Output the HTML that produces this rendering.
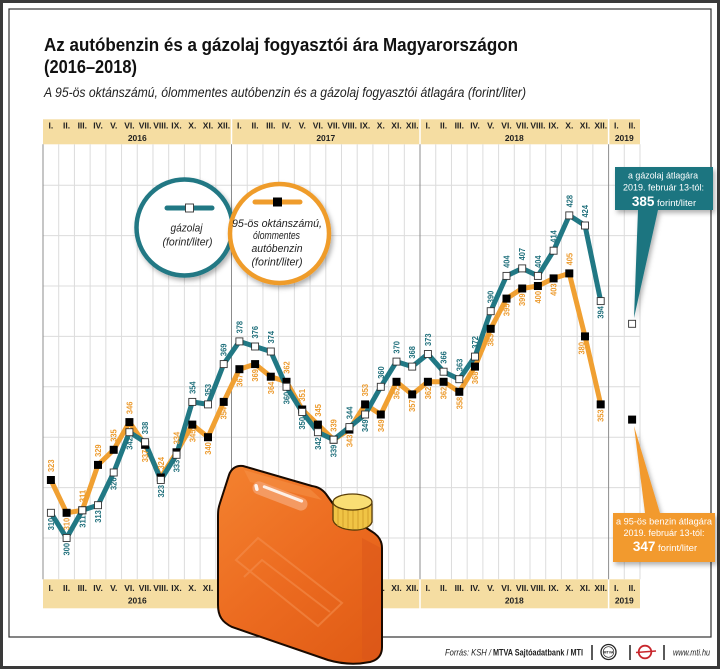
<!DOCTYPE html>
<html><head><meta charset="utf-8"><style>html,body{margin:0;padding:0;background:#fff}svg{display:block}</style></head>
<body>
<svg width="720" height="669" viewBox="0 0 720 669" xmlns="http://www.w3.org/2000/svg" font-family="'Liberation Sans', Arial, sans-serif">
<defs>
<filter id="sh" x="-30%" y="-30%" width="170%" height="170%"><feDropShadow dx="2" dy="3" stdDeviation="2.5" flood-color="#000" flood-opacity="0.3"/></filter>
<linearGradient id="cg" gradientUnits="userSpaceOnUse" x1="220" y1="470" x2="385" y2="660"><stop offset="0" stop-color="#f3812f"/><stop offset="0.5" stop-color="#ec6b20"/><stop offset="1" stop-color="#df5a14"/></linearGradient>
</defs>
<rect x="0" y="0" width="720" height="669" fill="#fff"/>
<rect x="1.5" y="1.5" width="717" height="666" fill="none" stroke="#3a3a3a" stroke-width="3"/>
<rect x="9" y="9" width="702" height="628" fill="none" stroke="#333" stroke-width="1.2"/>

<!-- title -->
<text x="44" y="51" font-size="18.5" font-weight="bold" fill="#111" textLength="474" lengthAdjust="spacingAndGlyphs">Az autóbenzin és a gázolaj fogyasztói ára Magyarországon</text>
<text x="44" y="73" font-size="18.5" font-weight="bold" fill="#111" textLength="93" lengthAdjust="spacingAndGlyphs">(2016–2018)</text>
<text x="44" y="97" font-size="13.5" font-style="italic" fill="#222" textLength="482" lengthAdjust="spacingAndGlyphs">A 95-ös oktánszámú, ólommentes autóbenzin és a gázolaj fogyasztói átlagára (forint/liter)</text>

<!-- header bands -->
<rect x="43" y="119.3" width="597" height="25" fill="#f5dda2"/>
<rect x="43" y="579.3" width="597" height="29" fill="#f5dda2"/>
<g stroke="#fff" stroke-width="1.5">
<line x1="231.5" y1="119" x2="231.5" y2="145"/><line x1="420" y1="119" x2="420" y2="145"/><line x1="608.6" y1="119" x2="608.6" y2="145"/>
<line x1="231.5" y1="579" x2="231.5" y2="609"/><line x1="420" y1="579" x2="420" y2="609"/><line x1="608.6" y1="579" x2="608.6" y2="609"/>
</g>

<!-- grid -->
<g stroke="#dcdcdc" stroke-width="1" fill="none">
<path d="M58.71 144.3V579.3M74.42 144.3V579.3M90.13 144.3V579.3M105.84 144.3V579.3M121.55 144.3V579.3M137.26 144.3V579.3M152.97 144.3V579.3M168.68 144.3V579.3M184.39 144.3V579.3M200.1 144.3V579.3M215.81 144.3V579.3M247.23 144.3V579.3M262.94 144.3V579.3M278.65 144.3V579.3M294.36 144.3V579.3M310.07 144.3V579.3M325.78 144.3V579.3M341.49 144.3V579.3M357.2 144.3V579.3M372.91 144.3V579.3M388.62 144.3V579.3M404.33 144.3V579.3M435.75 144.3V579.3M451.46 144.3V579.3M467.17 144.3V579.3M482.88 144.3V579.3M498.59 144.3V579.3M514.3 144.3V579.3M530.01 144.3V579.3M545.72 144.3V579.3M561.43 144.3V579.3M577.14 144.3V579.3M592.85 144.3V579.3M624.27 144.3V579.3M639.98 144.3V579.3"/>
<path d="M43 185.2H640M43 235.6H640M43 286H640M43 336.4H640M43 386.8H640M43 437.2H640M43 487.6H640M43 538H640"/>
</g>
<g stroke="#8c8c8c" stroke-width="1">
<line x1="43" y1="144.3" x2="43" y2="579.3"/><line x1="231.5" y1="144.3" x2="231.5" y2="579.3"/><line x1="420" y1="144.3" x2="420" y2="579.3"/><line x1="608.6" y1="144.3" x2="608.6" y2="579.3"/>
</g>

<!-- header labels -->
<g font-size="8.5" font-weight="bold" fill="#222" text-anchor="middle">
<g transform="translate(0,128.5)">
<text x="50.9">I.</text><text x="66.6">II.</text><text x="82.3">III.</text><text x="98">IV.</text><text x="113.7">V.</text><text x="129.4">VI.</text><text x="145.1">VII.</text><text x="160.8">VIII.</text><text x="176.5">IX.</text><text x="192.3">X.</text><text x="208">XI.</text><text x="223.7">XII.</text>
<text x="239.4">I.</text><text x="255.1">II.</text><text x="270.8">III.</text><text x="286.5">IV.</text><text x="302.2">V.</text><text x="317.9">VI.</text><text x="333.6">VII.</text><text x="349.4">VIII.</text><text x="365.1">IX.</text><text x="380.8">X.</text><text x="396.5">XI.</text><text x="412.2">XII.</text>
<text x="427.9">I.</text><text x="443.6">II.</text><text x="459.3">III.</text><text x="475">IV.</text><text x="490.7">V.</text><text x="506.5">VI.</text><text x="522.2">VII.</text><text x="537.9">VIII.</text><text x="553.6">IX.</text><text x="569.3">X.</text><text x="585">XI.</text><text x="600.7">XII.</text>
<text x="616.4">I.</text><text x="632.1">II.</text>
</g>
<g transform="translate(0,141)">
<text x="137.3">2016</text><text x="325.8">2017</text><text x="514.3">2018</text><text x="624.3">2019</text>
</g>
<g transform="translate(0,591)">
<text x="50.9">I.</text><text x="66.6">II.</text><text x="82.3">III.</text><text x="98">IV.</text><text x="113.7">V.</text><text x="129.4">VI.</text><text x="145.1">VII.</text><text x="160.8">VIII.</text><text x="176.5">IX.</text><text x="192.3">X.</text><text x="208">XI.</text><text x="223.7">XII.</text>
<text x="239.4">I.</text><text x="255.1">II.</text><text x="270.8">III.</text><text x="286.5">IV.</text><text x="302.2">V.</text><text x="317.9">VI.</text><text x="333.6">VII.</text><text x="349.4">VIII.</text><text x="365.1">IX.</text><text x="380.8">X.</text><text x="396.5">XI.</text><text x="412.2">XII.</text>
<text x="427.9">I.</text><text x="443.6">II.</text><text x="459.3">III.</text><text x="475">IV.</text><text x="490.7">V.</text><text x="506.5">VI.</text><text x="522.2">VII.</text><text x="537.9">VIII.</text><text x="553.6">IX.</text><text x="569.3">X.</text><text x="585">XI.</text><text x="600.7">XII.</text>
<text x="616.4">I.</text><text x="632.1">II.</text>
</g>
<g transform="translate(0,603.5)">
<text x="137.3">2016</text><text x="325.8">2017</text><text x="514.3">2018</text><text x="624.3">2019</text>
</g>
</g>

<!-- series lines -->
<polyline fill="none" stroke="#f0a032" stroke-width="5" stroke-linejoin="round" stroke-linecap="round" points="50.9,480 66.6,512.8 82.3,510.3 98,464.9 113.7,449.8 129.4,422.1 145.1,444.8 160.8,477.5 176.5,452.3 192.3,424.6 208,437.2 223.7,401.9 239.4,369.2 255.1,364.1 270.8,376.7 286.5,381.8 302.2,409.5 317.9,424.6 333.6,439.7 349.4,429.6 365.1,404.4 380.8,414.5 396.5,381.8 412.2,394.4 427.9,381.8 443.6,381.8 459.3,391.8 475,366.6 490.7,328.8 506.5,298.6 522.2,288.5 537.9,286 553.6,278.4 569.3,273.4 585,336.4 600.7,404.4"/>
<polyline fill="none" stroke="#217884" stroke-width="5" stroke-linejoin="round" stroke-linecap="round" points="50.9,512.8 66.6,538 82.3,510.3 98,505.2 113.7,472.5 129.4,432.2 145.1,442.2 160.8,480 176.5,454.8 192.3,401.9 208,404.4 223.7,364.1 239.4,341.4 255.1,346.5 270.8,351.5 286.5,386.8 302.2,412 317.9,432.2 333.6,439.7 349.4,427.1 365.1,414.5 380.8,386.8 396.5,361.6 412.2,366.6 427.9,354 443.6,371.7 459.3,379.2 475,356.6 490.7,311.2 506.5,275.9 522.2,268.4 537.9,275.9 553.6,250.7 569.3,215.4 585,225.5 600.7,301.1"/>

<!-- orange markers -->
<g fill="#000">
<rect x="46.9" y="476" width="8" height="8"/><rect x="62.6" y="508.8" width="8" height="8"/><rect x="78.3" y="506.3" width="8" height="8"/><rect x="94" y="460.9" width="8" height="8"/><rect x="109.7" y="445.8" width="8" height="8"/><rect x="125.4" y="418.1" width="8" height="8"/><rect x="141.1" y="440.8" width="8" height="8"/><rect x="156.8" y="473.5" width="8" height="8"/><rect x="172.5" y="448.3" width="8" height="8"/><rect x="188.3" y="420.6" width="8" height="8"/><rect x="204" y="433.2" width="8" height="8"/><rect x="219.7" y="397.9" width="8" height="8"/>
<rect x="235.4" y="365.2" width="8" height="8"/><rect x="251.1" y="360.1" width="8" height="8"/><rect x="266.8" y="372.7" width="8" height="8"/><rect x="282.5" y="377.8" width="8" height="8"/><rect x="298.2" y="405.5" width="8" height="8"/><rect x="313.9" y="420.6" width="8" height="8"/><rect x="329.6" y="435.7" width="8" height="8"/><rect x="345.4" y="425.6" width="8" height="8"/><rect x="361.1" y="400.4" width="8" height="8"/><rect x="376.8" y="410.5" width="8" height="8"/><rect x="392.5" y="377.8" width="8" height="8"/><rect x="408.2" y="390.4" width="8" height="8"/>
<rect x="423.9" y="377.8" width="8" height="8"/><rect x="439.6" y="377.8" width="8" height="8"/><rect x="455.3" y="387.8" width="8" height="8"/><rect x="471" y="362.6" width="8" height="8"/><rect x="486.7" y="324.8" width="8" height="8"/><rect x="502.5" y="294.6" width="8" height="8"/><rect x="518.2" y="284.5" width="8" height="8"/><rect x="533.9" y="282" width="8" height="8"/><rect x="549.6" y="274.4" width="8" height="8"/><rect x="565.3" y="269.4" width="8" height="8"/><rect x="581" y="332.4" width="8" height="8"/><rect x="596.7" y="400.4" width="8" height="8"/>
<rect x="628.1" y="415.6" width="8" height="8"/>
</g>
<!-- teal markers -->
<g fill="#fff" stroke="#333" stroke-width="0.9">
<rect x="47.4" y="509.3" width="7" height="7"/><rect x="63.1" y="534.5" width="7" height="7"/><rect x="78.8" y="506.8" width="7" height="7"/><rect x="94.5" y="501.7" width="7" height="7"/><rect x="110.2" y="469" width="7" height="7"/><rect x="125.9" y="428.7" width="7" height="7"/><rect x="141.6" y="438.7" width="7" height="7"/><rect x="157.3" y="476.5" width="7" height="7"/><rect x="173" y="451.3" width="7" height="7"/><rect x="188.8" y="398.4" width="7" height="7"/><rect x="204.5" y="400.9" width="7" height="7"/><rect x="220.2" y="360.6" width="7" height="7"/>
<rect x="235.9" y="337.9" width="7" height="7"/><rect x="251.6" y="343" width="7" height="7"/><rect x="267.3" y="348" width="7" height="7"/><rect x="283" y="383.3" width="7" height="7"/><rect x="298.7" y="408.5" width="7" height="7"/><rect x="314.4" y="428.7" width="7" height="7"/><rect x="330.1" y="436.2" width="7" height="7"/><rect x="345.9" y="423.6" width="7" height="7"/><rect x="361.6" y="411" width="7" height="7"/><rect x="377.3" y="383.3" width="7" height="7"/><rect x="393" y="358.1" width="7" height="7"/><rect x="408.7" y="363.1" width="7" height="7"/>
<rect x="424.4" y="350.5" width="7" height="7"/><rect x="440.1" y="368.2" width="7" height="7"/><rect x="455.8" y="375.7" width="7" height="7"/><rect x="471.5" y="353.1" width="7" height="7"/><rect x="487.2" y="307.7" width="7" height="7"/><rect x="503" y="272.4" width="7" height="7"/><rect x="518.7" y="264.9" width="7" height="7"/><rect x="534.4" y="272.4" width="7" height="7"/><rect x="550.1" y="247.2" width="7" height="7"/><rect x="565.8" y="211.9" width="7" height="7"/><rect x="581.5" y="222" width="7" height="7"/><rect x="597.2" y="297.6" width="7" height="7"/>
<rect x="628.6" y="320.3" width="7" height="7"/>
</g>

<!-- teal labels -->
<g fill="#1f6f7b" font-size="8.5" font-weight="bold">
<text transform="translate(53.9,517.8) rotate(-90)" text-anchor="end" textLength="12.5" lengthAdjust="spacingAndGlyphs">310</text>
<text transform="translate(69.6,543) rotate(-90)" text-anchor="end" textLength="12.5" lengthAdjust="spacingAndGlyphs">300</text>
<text transform="translate(85.3,515.3) rotate(-90)" text-anchor="end" textLength="12.5" lengthAdjust="spacingAndGlyphs">311</text>
<text transform="translate(101,510.2) rotate(-90)" text-anchor="end" textLength="12.5" lengthAdjust="spacingAndGlyphs">313</text>
<text transform="translate(116.7,477.5) rotate(-90)" text-anchor="end" textLength="12.5" lengthAdjust="spacingAndGlyphs">326</text>
<text transform="translate(132.4,437.2) rotate(-90)" text-anchor="end" textLength="12.5" lengthAdjust="spacingAndGlyphs">342</text>
<text transform="translate(148.1,434.2) rotate(-90)" textLength="12.5" lengthAdjust="spacingAndGlyphs">338</text>
<text transform="translate(163.8,485) rotate(-90)" text-anchor="end" textLength="12.5" lengthAdjust="spacingAndGlyphs">323</text>
<text transform="translate(179.5,459.8) rotate(-90)" text-anchor="end" textLength="12.5" lengthAdjust="spacingAndGlyphs">333</text>
<text transform="translate(195.3,393.9) rotate(-90)" textLength="12.5" lengthAdjust="spacingAndGlyphs">354</text>
<text transform="translate(211,396.4) rotate(-90)" textLength="12.5" lengthAdjust="spacingAndGlyphs">353</text>
<text transform="translate(226.7,356.1) rotate(-90)" textLength="12.5" lengthAdjust="spacingAndGlyphs">369</text>
<text transform="translate(242.4,333.4) rotate(-90)" textLength="12.5" lengthAdjust="spacingAndGlyphs">378</text>
<text transform="translate(258.1,338.5) rotate(-90)" textLength="12.5" lengthAdjust="spacingAndGlyphs">376</text>
<text transform="translate(273.8,343.5) rotate(-90)" textLength="12.5" lengthAdjust="spacingAndGlyphs">374</text>
<text transform="translate(289.5,391.8) rotate(-90)" text-anchor="end" textLength="12.5" lengthAdjust="spacingAndGlyphs">360</text>
<text transform="translate(305.2,417) rotate(-90)" text-anchor="end" textLength="12.5" lengthAdjust="spacingAndGlyphs">350</text>
<text transform="translate(320.9,437.2) rotate(-90)" text-anchor="end" textLength="12.5" lengthAdjust="spacingAndGlyphs">342</text>
<text transform="translate(336.6,444.7) rotate(-90)" text-anchor="end" textLength="12.5" lengthAdjust="spacingAndGlyphs">339</text>
<text transform="translate(352.4,419.1) rotate(-90)" textLength="12.5" lengthAdjust="spacingAndGlyphs">344</text>
<text transform="translate(368.1,419.5) rotate(-90)" text-anchor="end" textLength="12.5" lengthAdjust="spacingAndGlyphs">349</text>
<text transform="translate(383.8,378.8) rotate(-90)" textLength="12.5" lengthAdjust="spacingAndGlyphs">360</text>
<text transform="translate(399.5,353.6) rotate(-90)" textLength="12.5" lengthAdjust="spacingAndGlyphs">370</text>
<text transform="translate(415.2,358.6) rotate(-90)" textLength="12.5" lengthAdjust="spacingAndGlyphs">368</text>
<text transform="translate(430.9,346) rotate(-90)" textLength="12.5" lengthAdjust="spacingAndGlyphs">373</text>
<text transform="translate(446.6,363.7) rotate(-90)" textLength="12.5" lengthAdjust="spacingAndGlyphs">366</text>
<text transform="translate(462.3,371.2) rotate(-90)" textLength="12.5" lengthAdjust="spacingAndGlyphs">363</text>
<text transform="translate(478,348.6) rotate(-90)" textLength="12.5" lengthAdjust="spacingAndGlyphs">372</text>
<text transform="translate(493.7,303.2) rotate(-90)" textLength="12.5" lengthAdjust="spacingAndGlyphs">390</text>
<text transform="translate(509.5,267.9) rotate(-90)" textLength="12.5" lengthAdjust="spacingAndGlyphs">404</text>
<text transform="translate(525.2,260.4) rotate(-90)" textLength="12.5" lengthAdjust="spacingAndGlyphs">407</text>
<text transform="translate(540.9,267.9) rotate(-90)" textLength="12.5" lengthAdjust="spacingAndGlyphs">404</text>
<text transform="translate(556.6,242.7) rotate(-90)" textLength="12.5" lengthAdjust="spacingAndGlyphs">414</text>
<text transform="translate(572.3,207.4) rotate(-90)" textLength="12.5" lengthAdjust="spacingAndGlyphs">428</text>
<text transform="translate(588,217.5) rotate(-90)" textLength="12.5" lengthAdjust="spacingAndGlyphs">424</text>
<text transform="translate(603.7,306.1) rotate(-90)" text-anchor="end" textLength="12.5" lengthAdjust="spacingAndGlyphs">394</text>
</g>

<!-- orange labels -->
<g fill="#ec9a2c" font-size="8.5" font-weight="bold">
<text transform="translate(53.9,472) rotate(-90)" textLength="12.5" lengthAdjust="spacingAndGlyphs">323</text>
<text transform="translate(69.6,517.8) rotate(-90)" text-anchor="end" textLength="12.5" lengthAdjust="spacingAndGlyphs">310</text>
<text transform="translate(85.3,502.3) rotate(-90)" textLength="12.5" lengthAdjust="spacingAndGlyphs">311</text>
<text transform="translate(101,456.9) rotate(-90)" textLength="12.5" lengthAdjust="spacingAndGlyphs">329</text>
<text transform="translate(116.7,441.8) rotate(-90)" textLength="12.5" lengthAdjust="spacingAndGlyphs">335</text>
<text transform="translate(132.4,414.1) rotate(-90)" textLength="12.5" lengthAdjust="spacingAndGlyphs">346</text>
<text transform="translate(148.1,449.8) rotate(-90)" text-anchor="end" textLength="12.5" lengthAdjust="spacingAndGlyphs">337</text>
<text transform="translate(163.8,469.5) rotate(-90)" textLength="12.5" lengthAdjust="spacingAndGlyphs">324</text>
<text transform="translate(179.5,444.3) rotate(-90)" textLength="12.5" lengthAdjust="spacingAndGlyphs">334</text>
<text transform="translate(195.3,429.6) rotate(-90)" text-anchor="end" textLength="12.5" lengthAdjust="spacingAndGlyphs">345</text>
<text transform="translate(211,442.2) rotate(-90)" text-anchor="end" textLength="12.5" lengthAdjust="spacingAndGlyphs">340</text>
<text transform="translate(226.7,406.9) rotate(-90)" text-anchor="end" textLength="12.5" lengthAdjust="spacingAndGlyphs">354</text>
<text transform="translate(242.4,374.2) rotate(-90)" text-anchor="end" textLength="12.5" lengthAdjust="spacingAndGlyphs">367</text>
<text transform="translate(258.1,369.1) rotate(-90)" text-anchor="end" textLength="12.5" lengthAdjust="spacingAndGlyphs">369</text>
<text transform="translate(273.8,381.7) rotate(-90)" text-anchor="end" textLength="12.5" lengthAdjust="spacingAndGlyphs">364</text>
<text transform="translate(289.5,373.8) rotate(-90)" textLength="12.5" lengthAdjust="spacingAndGlyphs">362</text>
<text transform="translate(305.2,401.5) rotate(-90)" textLength="12.5" lengthAdjust="spacingAndGlyphs">351</text>
<text transform="translate(320.9,416.6) rotate(-90)" textLength="12.5" lengthAdjust="spacingAndGlyphs">345</text>
<text transform="translate(336.6,431.7) rotate(-90)" textLength="12.5" lengthAdjust="spacingAndGlyphs">339</text>
<text transform="translate(352.4,434.6) rotate(-90)" text-anchor="end" textLength="12.5" lengthAdjust="spacingAndGlyphs">343</text>
<text transform="translate(368.1,396.4) rotate(-90)" textLength="12.5" lengthAdjust="spacingAndGlyphs">353</text>
<text transform="translate(383.8,419.5) rotate(-90)" text-anchor="end" textLength="12.5" lengthAdjust="spacingAndGlyphs">349</text>
<text transform="translate(399.5,386.8) rotate(-90)" text-anchor="end" textLength="12.5" lengthAdjust="spacingAndGlyphs">362</text>
<text transform="translate(415.2,399.4) rotate(-90)" text-anchor="end" textLength="12.5" lengthAdjust="spacingAndGlyphs">357</text>
<text transform="translate(430.9,386.8) rotate(-90)" text-anchor="end" textLength="12.5" lengthAdjust="spacingAndGlyphs">362</text>
<text transform="translate(446.6,386.8) rotate(-90)" text-anchor="end" textLength="12.5" lengthAdjust="spacingAndGlyphs">362</text>
<text transform="translate(462.3,396.8) rotate(-90)" text-anchor="end" textLength="12.5" lengthAdjust="spacingAndGlyphs">358</text>
<text transform="translate(478,371.6) rotate(-90)" text-anchor="end" textLength="12.5" lengthAdjust="spacingAndGlyphs">368</text>
<text transform="translate(493.7,333.8) rotate(-90)" text-anchor="end" textLength="12.5" lengthAdjust="spacingAndGlyphs">383</text>
<text transform="translate(509.5,303.6) rotate(-90)" text-anchor="end" textLength="12.5" lengthAdjust="spacingAndGlyphs">395</text>
<text transform="translate(525.2,293.5) rotate(-90)" text-anchor="end" textLength="12.5" lengthAdjust="spacingAndGlyphs">399</text>
<text transform="translate(540.9,291) rotate(-90)" text-anchor="end" textLength="12.5" lengthAdjust="spacingAndGlyphs">400</text>
<text transform="translate(556.6,283.4) rotate(-90)" text-anchor="end" textLength="12.5" lengthAdjust="spacingAndGlyphs">403</text>
<text transform="translate(572.3,265.4) rotate(-90)" textLength="12.5" lengthAdjust="spacingAndGlyphs">405</text>
<text transform="translate(584.5,342) rotate(-90)" text-anchor="end" textLength="12.5" lengthAdjust="spacingAndGlyphs">380</text>
<text transform="translate(603.7,409.4) rotate(-90)" text-anchor="end" textLength="12.5" lengthAdjust="spacingAndGlyphs">353</text>
</g>

<!-- legend -->
<g filter="url(#sh)">
<circle cx="184.5" cy="227.5" r="48" fill="#fff" stroke="#217884" stroke-width="4.5"/>
</g>
<line x1="167" y1="208" x2="212" y2="208" stroke="#217884" stroke-width="5" stroke-linecap="round"/>
<rect x="185.5" y="204" width="8" height="8" fill="#fff" stroke="#333" stroke-width="0.9"/>
<g font-size="11" font-style="italic" fill="#222" text-anchor="middle">
<text x="186.5" y="231.5" textLength="32" lengthAdjust="spacingAndGlyphs">gázolaj</text>
<text x="187.5" y="245.5" textLength="50" lengthAdjust="spacingAndGlyphs">(forint/liter)</text>
</g>
<g filter="url(#sh)">
<circle cx="279.5" cy="233.5" r="49.5" fill="#fff" stroke="#ef9c2c" stroke-width="4.5"/>
</g>
<line x1="255" y1="202" x2="300" y2="202" stroke="#ef9c2c" stroke-width="5" stroke-linecap="round"/>
<rect x="273" y="197.5" width="9" height="9" fill="#000"/>
<g font-size="11" font-style="italic" fill="#222" text-anchor="middle">
<text x="277" y="227" textLength="90" lengthAdjust="spacingAndGlyphs">95-ös oktánszámú,</text>
<text x="276.5" y="239" textLength="47" lengthAdjust="spacingAndGlyphs">ólommentes</text>
<text x="277" y="252" textLength="51" lengthAdjust="spacingAndGlyphs">autóbenzin</text>
<text x="277" y="265.5" textLength="51" lengthAdjust="spacingAndGlyphs">(forint/liter)</text>
</g>

<!-- callouts -->
<g filter="url(#sh)">
<path d="M615 167H713V210H658L634 318L638 210H615Z" fill="#1f7580"/>
</g>
<g fill="#fff" text-anchor="middle">
<text x="663" y="178.5" font-size="9.5" textLength="70" lengthAdjust="spacingAndGlyphs">a gázolaj átlagára</text>
<text x="663.5" y="190.5" font-size="9.5" textLength="81" lengthAdjust="spacingAndGlyphs">2019. február 13-tól:</text>
<text x="664" y="206"><tspan font-size="13.5" font-weight="bold">385</tspan><tspan font-size="9.5"> forint/liter</tspan></text>
</g>
<g filter="url(#sh)">
<path d="M613 513H645L634 426L660 513H715V562H613Z" fill="#f29a2d"/>
</g>
<g fill="#fff" text-anchor="middle">
<text x="664" y="524.5" font-size="9.5" textLength="96" lengthAdjust="spacingAndGlyphs">a 95-ös benzin átlagára</text>
<text x="664" y="536" font-size="9.5" textLength="81" lengthAdjust="spacingAndGlyphs">2019. február 13-tól:</text>
<text x="665" y="551"><tspan font-size="13.5" font-weight="bold">347</tspan><tspan font-size="9.5"> forint/liter</tspan></text>
</g>

<!-- jerrycan -->
<g>
<path d="M243 466 C236 465 231 469 229 475 L220 503 C218 509 218 512 218 518 L218 605 C218 616 222 622 232 627 L328 660 C345 665 360 664 370 662 C378 660 382 655 382 647 L382 548 C382 540 378 535 371 531 L336 508 L326 494 C322 489 318 487 312 486 Z" fill="url(#cg)" stroke="#1a0a00" stroke-width="2"/>
<path d="M362 538 L381 548 L381 647 C381 655 377 659 370 661 L362 659 Z" fill="#d9551a" opacity="0.45"/>
<path d="M244 470 L310 489 L322 500 L250 482 Z" fill="#f6934a" opacity="0.5"/>
<g transform="rotate(21 280 496)">
<rect x="251" y="489.5" width="58" height="13" rx="6.5" fill="#f49a62"/>
<path d="M262 493 L302 493" stroke="#fff" stroke-width="3" stroke-linecap="round" opacity="0.85"/>
<path d="M254 495 L256 498" stroke="#fff" stroke-width="3.5" stroke-linecap="round" opacity="0.9"/>
</g>
<g fill="none" stroke="#f59050" stroke-width="2" opacity="0.55">
<path d="M236 560 L258 538 L342 603 L318 626 Z"/>
<path d="M244 577 L262 560 L330 612"/>
</g>
<path d="M333 503 L333 520 C336 532 368 534 372 522 L372 504 Z" fill="#f0c445" stroke="#5a3e08" stroke-width="1.3"/>
<g stroke="#d4a02a" stroke-width="1">
<line x1="338" y1="508" x2="338" y2="526"/><line x1="343" y1="509" x2="343" y2="528"/><line x1="348" y1="510" x2="348" y2="529"/><line x1="353" y1="510" x2="353" y2="529"/><line x1="358" y1="510" x2="358" y2="529"/><line x1="363" y1="509" x2="363" y2="528"/><line x1="368" y1="508" x2="368" y2="526"/>
</g>
<ellipse cx="352.5" cy="502" rx="19.5" ry="8" fill="#f9de74" stroke="#5a3e08" stroke-width="1.3"/>
</g>

<!-- footer -->
<g font-size="9" fill="#222">
<text x="445" y="655.5" font-style="italic" textLength="46" lengthAdjust="spacingAndGlyphs">Forrás: KSH /</text>
<text x="493" y="655.5" font-weight="bold" textLength="90" lengthAdjust="spacingAndGlyphs">MTVA Sajtóadatbank / MTI</text>
<text x="673" y="655.5" font-style="italic" textLength="37" lengthAdjust="spacingAndGlyphs">www.mti.hu</text>
</g>
<g stroke="#222" stroke-width="1.5">
<line x1="592" y1="645" x2="592" y2="660"/><line x1="630" y1="645" x2="630" y2="660"/><line x1="664" y1="645" x2="664" y2="660"/>
</g>
<circle cx="608.5" cy="652" r="7.5" fill="#fff" stroke="#222" stroke-width="1.3"/>
<circle cx="608.5" cy="652" r="5.3" fill="none" stroke="#222" stroke-width="0.6"/>
<text x="608.5" y="653.3" font-size="3.6" font-weight="bold" text-anchor="middle" fill="#222">MTVA</text>
<circle cx="645" cy="652" r="6.3" fill="none" stroke="#c8262c" stroke-width="1.8"/>
<line x1="636" y1="652.5" x2="656" y2="651" stroke="#c8262c" stroke-width="1.4"/>
</svg>
</body></html>
